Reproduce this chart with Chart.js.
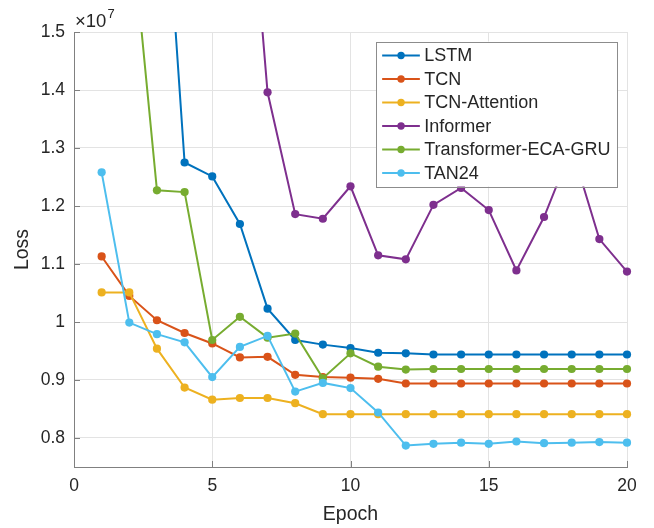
<!DOCTYPE html>
<html>
<head>
<meta charset="utf-8">
<script src="https://cdn.jsdelivr.net/npm/chart.js@4.4.0/dist/chart.umd.min.js"></script>
<style>
  body { margin: 0; background: #fff; }
  #wrap { width: 654px; height: 528px; }
</style>
</head>
<body>
<div id="wrap"><canvas id="lossChart" width="654" height="528"></canvas></div>
<script>
// values are in units of 1e7 (axis shows x10^7)
const epochs = [1, 2, 3, 4, 5, 6, 7, 8, 9, 10, 11, 12, 13, 14, 15, 16, 17, 18, 19, 20];
const seriesNames = ['LSTM', 'TCN', 'TCN-Attention', 'Informer', 'Transformer-ECA-GRU', 'TAN24'];
const seriesColors = ['#0072BD', '#D95319', '#EDB120', '#7E2F8E', '#77AC30', '#4DBEEE'];

const lstm = [2.60, 2.30, 1.97, 1.275, 1.251, 1.169, 1.023, 0.969, 0.961, 0.955,
  0.947, 0.946, 0.944, 0.944, 0.944, 0.944, 0.944, 0.944, 0.944, 0.944];
const tcn = [1.113, 1.045, 1.003, 0.981, 0.963, 0.939, 0.940, 0.909, 0.905, 0.904,
  0.902, 0.894, 0.894, 0.894, 0.894, 0.894, 0.894, 0.894, 0.894, 0.894];
const tcnAttention = [1.051, 1.051, 0.954, 0.887, 0.866, 0.869, 0.869, 0.860, 0.841, 0.841,
  0.841, 0.841, 0.841, 0.841, 0.841, 0.841, 0.841, 0.841, 0.841, 0.841];
const informer = [2.50, 2.40, 2.30, 2.20, 2.10, 1.97, 1.396, 1.186, 1.178, 1.234,
  1.115, 1.108, 1.202, 1.231, 1.193, 1.089, 1.181, 1.300, 1.143, 1.087];
const transEcaGru = [2.10, 1.72, 1.227, 1.224, 0.969, 1.009, 0.973, 0.980, 0.903, 0.946,
  0.923, 0.918, 0.919, 0.919, 0.919, 0.919, 0.919, 0.919, 0.919, 0.919];
const tan24 = [1.258, 0.999, 0.979, 0.965, 0.905, 0.957, 0.976, 0.880, 0.895, 0.886,
  0.844, 0.787, 0.790, 0.792, 0.790, 0.794, 0.791, 0.792, 0.793, 0.792];

const xTicks = [0, 5, 10, 15, 20];
const xTickLabels = ['0', '5', '10', '15', '20'];
const yTicks = [0.8, 0.9, 1.0, 1.1, 1.2, 1.3, 1.4, 1.5];
const yTickLabels = ['0.8', '0.9', '1', '1.1', '1.2', '1.3', '1.4', '1.5'];

const FONT = '"Liberation Sans", Arial, Helvetica, sans-serif';
const TEXT = '#262626';
const AXIS = '#808080';

const allSeries = [lstm, tcn, tcnAttention, informer, transEcaGru, tan24];

const datasets = allSeries.map((vals, i) => ({
  label: seriesNames[i],
  data: vals.map((v, j) => ({ x: epochs[j], y: v })),
  borderColor: seriesColors[i],
  backgroundColor: seriesColors[i],
  pointBackgroundColor: seriesColors[i],
  pointBorderColor: seriesColors[i],
  borderWidth: 2,
  pointRadius: 4.1,
  pointBorderWidth: 0,
  tension: 0,
  order: allSeries.length - i, // later series on top, like matlab
  clip: { left: 8, top: 0, right: 8, bottom: 8 },
}));

// inward tick marks + x10^7 label
const axisDecor = {
  id: 'axisDecor',
  afterDatasetsDraw(chart) {
    const { ctx, chartArea, scales } = chart;
    ctx.save();
    ctx.strokeStyle = AXIS;
    ctx.lineWidth = 1;
    ctx.beginPath();
    xTicks.forEach(v => {
      const px = Math.round(scales.x.getPixelForValue(v)) + 0.5;
      ctx.moveTo(px, chartArea.bottom);
      ctx.lineTo(px, chartArea.bottom - 6);
    });
    yTicks.forEach(v => {
      const py = Math.round(scales.y.getPixelForValue(v)) + 0.5;
      ctx.moveTo(chartArea.left, py);
      ctx.lineTo(chartArea.left + 6, py);
    });
    ctx.stroke();

    ctx.fillStyle = TEXT;
    ctx.textBaseline = 'alphabetic';
    ctx.textAlign = 'left';
    ctx.font = '18.5px ' + FONT;
    ctx.fillText('\u00d710', chartArea.left + 1, chartArea.top - 5);
    const w = ctx.measureText('\u00d710').width;
    ctx.font = '13px ' + FONT;
    ctx.fillText('7', chartArea.left + 2 + w, chartArea.top - 14);
    ctx.restore();
  }
};

// boxed legend inside the axes (top right)
const boxLegend = {
  id: 'boxLegend',
  afterDraw(chart) {
    const { ctx, chartArea } = chart;
    const sets = chart.data.datasets;
    ctx.save();
    ctx.font = '18px ' + FONT;
    let textW = 0;
    sets.forEach(d => { textW = Math.max(textW, ctx.measureText(d.label).width); });
    const rowH = 23.5;
    const boxW = 47.7 + textW + 7;
    const boxH = 14 + rowH * (sets.length - 1) + 13.5;
    const right = chartArea.right - 9.5;
    const left = right - boxW;
    const top = chartArea.top + 9.5;

    ctx.fillStyle = '#fff';
    ctx.fillRect(left, top, boxW, boxH);
    ctx.strokeStyle = '#8c8c8c';
    ctx.lineWidth = 1;
    ctx.strokeRect(Math.round(left) + 0.5, Math.round(top) + 0.5, Math.round(boxW), Math.round(boxH));

    sets.forEach((d, i) => {
      const cy = top + 14 + i * rowH;
      ctx.strokeStyle = d.borderColor;
      ctx.lineWidth = 2;
      ctx.beginPath();
      ctx.moveTo(left + 5.7, cy);
      ctx.lineTo(left + 43.4, cy);
      ctx.stroke();
      ctx.fillStyle = d.borderColor;
      ctx.beginPath();
      ctx.arc(left + 24.6, cy, 3.7, 0, Math.PI * 2);
      ctx.fill();
      ctx.fillStyle = TEXT;
      ctx.textBaseline = 'middle';
      ctx.textAlign = 'left';
      ctx.fillText(d.label, left + 47.7, cy + 1);
    });
    ctx.restore();
  }
};

const ctx = document.getElementById('lossChart').getContext('2d');
const lossChart = new Chart(ctx, {
  type: 'line',
  data: { datasets: datasets },
  options: {
    responsive: false,
    animation: false,
    events: [],
    layout: { padding: { left: 0, right: 27, top: 32, bottom: 0 } },
    plugins: {
      legend: { display: false },
      tooltip: { enabled: false },
    },
    scales: {
      x: {
        type: 'linear',
        min: 0,
        max: 20,
        afterBuildTicks: (scale) => { scale.ticks = xTicks.map(v => ({ value: v })); },
        afterFit: (scale) => { scale.height = 61; },
        ticks: {
          callback: (v, i) => xTickLabels[i],
          font: { family: FONT, size: 17.5, lineHeight: 1.2 },
          color: TEXT,
          padding: 9,
          maxRotation: 0,
        },
        grid: { color: '#e3e3e3', drawTicks: false },
        border: { display: true, color: AXIS, width: 1 },
        title: {
          display: true,
          text: 'Epoch',
          font: { family: FONT, size: 19.5, lineHeight: 1.2 },
          color: TEXT,
          padding: { top: 0, bottom: 2 },
        },
      },
      y: {
        type: 'linear',
        min: 0.75,
        max: 1.5,
        afterBuildTicks: (scale) => { scale.ticks = yTicks.map(v => ({ value: v })); },
        afterFit: (scale) => { scale.width = 74; },
        ticks: {
          callback: (v, i) => yTickLabels[i],
          font: { family: FONT, size: 17.5 },
          color: TEXT,
          padding: 9,
        },
        grid: { color: '#e3e3e3', drawTicks: false },
        border: { display: true, color: AXIS, width: 1 },
        title: {
          display: true,
          text: 'Loss',
          font: { family: FONT, size: 19.5, lineHeight: 1.2 },
          color: TEXT,
          padding: { top: 10.5, bottom: 0 },
        },
      },
    },
  },
  plugins: [axisDecor, boxLegend],
});
</script>
</body>
</html>
